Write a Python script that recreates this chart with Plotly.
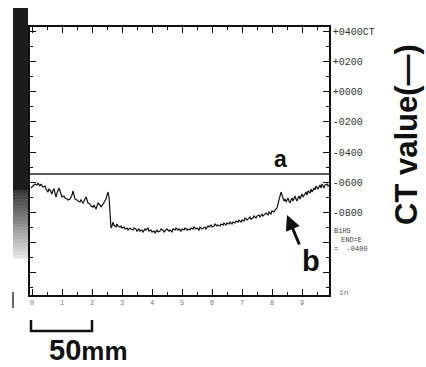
import plotly.graph_objects as go

# ---- data ----
# sample index along the profile (1 tick unit = 30 samples) and CT value
SAMPLE = [-1, 1, 3, 5, 6, 8, 9, 11, 13, 14, 16, 17, 18, 20, 21, 22, 24, 25, 26, 27, 29, 30, 32, 33, 35, 36, 38, 39, 40, 41,
          42, 43, 45, 46, 48, 49, 51, 52, 54, 55, 56, 58, 59, 61, 62, 64, 65, 66, 68, 69, 71, 72, 74, 75, 76, 77, 78, 79,
          80, 81, 82, 84, 85, 86, 88, 89, 90, 92, 93, 95, 96, 98, 99, 101, 102, 104, 105, 107, 108, 110, 111, 113, 114,
          116, 117, 119, 120, 122, 123, 125, 126, 128, 129, 131, 132, 134, 135, 137, 138, 140, 141, 143, 144, 146, 147,
          149, 150, 152, 153, 155, 156, 158, 159, 161, 162, 164, 165, 167, 168,
          170, 171, 173, 174, 176, 177, 179, 180, 182, 183, 185, 186, 188, 189, 191, 192, 194, 195, 197, 198, 200, 201,
          203, 204, 206, 207, 209, 210, 212, 213, 215, 216, 218, 219, 221, 222, 224, 225, 227, 228, 230, 231, 233, 234,
          236, 237, 239, 240, 242, 243, 245, 246, 247, 248,
          249, 250, 251, 252, 253, 254, 255, 256, 257, 258, 259, 260, 261, 262, 263, 264, 265, 266, 267, 268, 269, 270,
          271, 272, 274, 275, 276, 278, 279, 280, 282, 283, 284, 286, 287, 288, 289, 290, 291, 292, 293, 295, 296, 297]
CT = [-640, -627, -613, -620, -607, -627, -613, -633, -627, -647, -667, -647, -653, -680, -653, -647, -700, -673, -660,
      -640, -680, -700, -693, -707, -713, -720, -713, -700, -687, -660, -693, -713, -720, -727, -733, -720, -740, -727,
      -700, -720, -740, -747, -760, -767, -753, -780, -760, -740, -753, -767, -747, -733, -713, -687, -667, -700, -800,
      -907,
      -893, -867, -887, -900, -880, -893, -900, -893, -907, -900, -913, -907, -920, -907, -913, -920, -907, -913, -927,
      -913, -927, -920, -933, -913, -920, -907, -927, -920, -933, -927, -940, -920, -933, -927, -913, -920, -933, -920,
      -913, -927, -920, -933, -913, -920, -907, -920, -913, -927, -913, -920, -907, -920, -913, -920, -907, -913, -900,
      -913, -907, -920, -900,
      -913, -907, -900, -913, -893, -900, -887, -900, -893, -880, -893, -887, -893, -880, -887, -873, -887, -873, -880,
      -867, -880, -867, -873, -860, -867, -853, -867, -853, -860, -840, -853, -847, -833, -847, -840, -827, -840, -827,
      -820, -833, -813, -827, -813, -807, -820, -800, -813, -793, -800, -787, -773, -747, -707, -680,
      -667, -687, -713, -727, -713, -733, -720, -707, -727, -740, -720, -707, -727, -713, -693, -713, -727, -707, -693,
      -713, -693, -680, -700, -687, -667, -687, -660, -673, -647, -667, -640, -653, -627, -647, -627, -620, -640, -613,
      -627, -640, -620, -613, -627, -620]
A_LEVEL = -547  # horizontal reference line "a"

X_TICKS = [0, 30, 60, 90, 120, 150, 180, 210, 240, 270]
X_TICK_TEXT = ["0", "1", "2", "3", "4", "5", "6", "7", "8", "9"]
X_MINOR = [15, 45, 75, 105, 135, 165, 195, 225, 255, 285]
Y_TICKS = [400, 200, 0, -200, -400, -600, -800, -1000, -1200]
Y_TICK_TEXT = ["+0400CT", "+0200", "+0000", "-0200", "-0400", "-0600", "-0800", "", ""]
Y_MINOR = [300, 100, -100, -300, -500, -700, -900, -1100, -1300]

# ---- geometry helpers (pixel -> paper) ----
L, R, T, B = 30, 329, 27, 295
W, H = 426, 367


def px(x):
    return (x - L) / (R - L)


def py(y):
    return (B - y) / (B - T)


fig = go.Figure()
fig.add_trace(go.Scatter(x=SAMPLE, y=CT, mode="lines",
                         line=dict(color="#111111", width=1.2), hoverinfo="skip"))

shapes = []
# reference line "a"
shapes.append(dict(type="line", xref="paper", yref="y", x0=0, x1=1, y0=A_LEVEL, y1=A_LEVEL,
                   line=dict(color="#222222", width=1.6)))
# dark grey-scale bar on the left
shapes.append(dict(type="rect", xref="paper", yref="paper", x0=px(13), x1=px(28), y0=py(191), y1=py(8),
                   fillcolor="#1c1c1c", line=dict(width=0), layer="above"))
n = 22
for i in range(n):
    y0 = 190 + i * (68 / n)
    y1 = y0 + 68 / n + 0.5
    g = int(0x30 + (0xe4 - 0x30) * (i + 1) / n)
    shapes.append(dict(type="rect", xref="paper", yref="paper", x0=px(13), x1=px(28), y0=py(y1), y1=py(y0),
                       fillcolor=f"rgb({g},{g},{g})", line=dict(width=0), layer="above"))
# small vertical mark lower left
shapes.append(dict(type="line", xref="paper", yref="paper", x0=px(13), x1=px(13), y0=py(292), y1=py(308),
                   line=dict(color="#333", width=1.5)))
# scale bar
shapes.append(dict(type="path", xref="paper", yref="paper",
                   path=f"M {px(31)} {py(320)} L {px(31)} {py(331)} L {px(92)} {py(331)} L {px(92)} {py(320)}",
                   line=dict(color="#111", width=2.5)))
fig.update_layout(shapes=shapes)

mono = "Liberation Mono"
ann = [
    dict(text="<b>a</b>", x=px(280), y=py(159), font=dict(size=23, family="Liberation Sans", color="#111")),
    dict(text="<b>b</b>", x=px(311), y=py(261), font=dict(size=29, family="Liberation Sans", color="#111")),
    dict(text="<b>CT value(—)</b>", x=px(406), y=py(135), textangle=-90,
         font=dict(size=31, family="Liberation Sans", color="#111")),
    dict(text="<b>50</b><b><span style='font-size:26px'>mm</span></b>", x=px(47), y=py(350), xanchor="left",
         font=dict(size=29, family="Liberation Sans", color="#111")),
    dict(text="B1HS", x=px(332), y=py(231), xanchor="left", font=dict(size=7, family=mono, color="#444")),
    dict(text="END=E", x=px(339), y=py(240), xanchor="left", font=dict(size=7, family=mono, color="#444")),
    dict(text="=  -0400", x=px(332), y=py(249), xanchor="left", font=dict(size=7, family=mono, color="#444")),
    dict(text="1n", x=px(337), y=py(292), xanchor="left", font=dict(size=8, family=mono, color="#777")),
]
for a in ann:
    a.setdefault("xanchor", "center")
    a.update(xref="paper", yref="paper", showarrow=False, yanchor="middle")
ann.append(dict(text="", xref="paper", yref="paper", x=px(287), y=py(215), ax=13, ay=31,
                showarrow=True, arrowhead=2, arrowsize=1, arrowwidth=3, arrowcolor="#111"))
fig.update_layout(annotations=ann)

fig.update_layout(
    width=W, height=H,
    margin=dict(l=L, r=W - R, t=T, b=H - B, pad=0),
    paper_bgcolor="white", plot_bgcolor="white", showlegend=False,
    xaxis=dict(range=[-2, 297], showline=True, linecolor="#111", linewidth=1.5, mirror="ticks",
               ticks="inside", ticklen=6, tickwidth=1, tickcolor="#111",
               tickmode="array", tickvals=X_TICKS, ticktext=X_TICK_TEXT,
               tickfont=dict(size=7, family=mono, color="#777"),
               minor=dict(ticks="inside", ticklen=3, tickcolor="#111", tickvals=X_MINOR),
               showgrid=False, zeroline=False),
    yaxis=dict(range=[-1353, 433], side="right", showline=True, linecolor="#111", linewidth=1.5, mirror="ticks",
               ticks="inside", ticklen=6, tickwidth=1, tickcolor="#111",
               tickmode="array", tickvals=Y_TICKS, ticktext=Y_TICK_TEXT,
               tickfont=dict(size=10, family=mono, color="#333"),
               minor=dict(ticks="inside", ticklen=3, tickcolor="#111", tickvals=Y_MINOR),
               showgrid=False, zeroline=False),
)

fig.write_html("out.html", config={"displayModeBar": False},
               post_script="document.body.style.margin='0px';document.body.style.padding='0px';")
